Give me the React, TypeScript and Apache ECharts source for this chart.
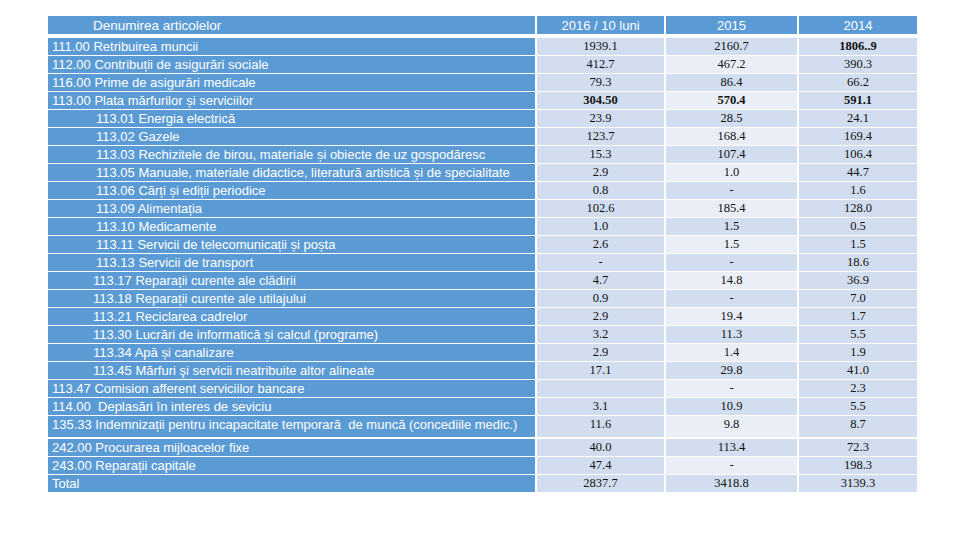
import React, { useEffect, useRef } from "react";
import * as echarts from "echarts";

// ---------- data ----------
const headers = ["Denumirea articolelor", "2016 / 10 luni", "2015", "2014"];

const articles = [
  "111.00 Retribuirea muncii",
  "112.00 Contribuții de asigurări sociale",
  "116.00 Prime de asigurări medicale",
  "113.00 Plata mărfurilor și serviciilor",
  "113.01 Energia electrică",
  "113,02 Gazele",
  "113.03 Rechizitele de birou, materiale și obiecte de uz gospodăresc",
  "113.05 Manuale, materiale didactice, literatură artistică și de specialitate",
  "113.06 Cărți și ediții periodice",
  "113.09 Alimentația",
  "113.10 Medicamente",
  "113.11 Servicii de telecomunicații și poșta",
  "113.13 Servicii de transport",
  "113.17 Reparații curente ale clădirii",
  "113.18 Reparații curente ale utilajului",
  "113.21 Reciclarea cadrelor",
  "113.30 Lucrări de informatică și calcul (programe)",
  "113.34 Apă și canalizare",
  "113.45 Mărfuri şi servicii neatribuite altor alineate",
  "113.47 Comision afferent serviciilor bancare",
  "114.00  Deplasări în interes de seviciu",
  "135.33 Indemnizații pentru incapacitate temporară  de muncă (concediile medic.)",
  "242.00 Procurarea mijloacelor fixe",
  "243.00 Reparații capitale",
  "Total",
];

const values2016 = [
  "1939.1", "412.7", "79.3", "304.50", "23.9", "123.7", "15.3", "2.9", "0.8", "102.6",
  "1.0", "2.6", "-", "4.7", "0.9", "2.9", "3.2", "2.9", "17.1", "", "3.1", "11.6",
  "40.0", "47.4", "2837.7",
];
const values2015 = [
  "2160.7", "467.2", "86.4", "570.4", "28.5", "168.4", "107.4", "1.0", "-", "185.4",
  "1.5", "1.5", "-", "14.8", "-", "19.4", "11.3", "1.4", "29.8", "-", "10.9", "9.8",
  "113.4", "-", "3418.8",
];
const values2014 = [
  "1806..9", "390.3", "66.2", "591.1", "24.1", "169.4", "106.4", "44.7", "1.6", "128.0",
  "0.5", "1.5", "18.6", "36.9", "7.0", "1.7", "5.5", "1.9", "41.0", "2.3", "5.5", "8.7",
  "72.3", "198.3", "3139.3",
];
const valueColumns = [values2016, values2015, values2014];

// cells shown in bold: [column, row]
const boldCells: [number, number][] = [
  [1, 3],
  [2, 3],
  [3, 3],
  [3, 0],
];

// ---------- layout (pixels) ----------
const COL_EDGES: [number, number][] = [
  [48, 535],
  [537, 664],
  [666, 797],
  [799, 917],
];
// indentation level of each article label (0 = top level)
const indentLevel = [0, 0, 0, 0, 2, 2, 2, 2, 2, 2, 2, 2, 2, 1, 1, 1, 1, 1, 1, 0, 0, 0, 0, 0, 0];
const INDENT_X = [52, 93, 96];

const BLUE = "#5B9BD5";
const BAND_DARK = "#D2DEEF";
const BAND_LIGHT = "#EAEFF7";
const LABEL_FONT = "'Liberation Sans', Arial, sans-serif";
const NUM_FONT = "'Liberation Serif', 'Times New Roman', serif";

function rowBox(r: number): [number, number] {
  if (r < 0) return [16, 18];
  if (r < 21) return [38 + 18 * r, 17];
  if (r === 21) return [416, 21];
  return [439 + 18 * (r - 22), 17];
}

const cells: number[][] = [];
for (let r = -1; r < articles.length; r++) {
  for (let c = 0; c < headers.length; c++) cells.push([c, r]);
}

export default function App() {
  const ref = useRef<HTMLDivElement>(null);
  useEffect(() => {
    if (!ref.current) return;
    const chart = echarts.init(ref.current, undefined, { renderer: "svg" });
    chart.setOption({
      animation: false,
      backgroundColor: "#ffffff",
      grid: { left: 0, right: 0, top: 0, bottom: 0 },
      xAxis: { type: "value", min: 0, max: 960, show: false },
      yAxis: { type: "value", min: 0, max: 540, inverse: true, show: false },
      series: [
        {
          type: "custom",
          coordinateSystem: "cartesian2d",
          data: cells,
          silent: true,
          renderItem: (params: any, api: any) => {
            const c = api.value(0) as number;
            const r = api.value(1) as number;
            const [x0, x1] = COL_EDGES[c];
            const [top, h] = rowBox(r);
            const p0 = api.coord([x0, top]);
            const p1 = api.coord([x1, top + h]);
            let fill = BLUE;
            if (r >= 0 && c > 0) {
              fill = c === 2 ? (r % 2 === 0 ? BAND_DARK : BAND_LIGHT) : BAND_DARK;
            }
            let text = "";
            let tx = (p0[0] + p1[0]) / 2;
            let align = "center";
            let font = LABEL_FONT;
            let color = "#ffffff";
            let size = 13;
            let weight: any = "normal";
            let ty = r < 0 ? (p0[1] + p1[1]) / 2 : api.coord([0, top + 8])[1];
            if (r < 0) {
              text = headers[c];
              if (c === 0) {
                tx = api.coord([93, 0])[0];
                align = "left";
                size = 13.5;
              }
            } else if (c === 0) {
              text = articles[r];
              tx = api.coord([INDENT_X[indentLevel[r]], 0])[0];
              align = "left";
            } else {
              text = valueColumns[c - 1][r];
              font = NUM_FONT;
              color = "#111111";
              size = 12.5;
              if (boldCells.some(([bc, br]) => bc === c && br === r)) weight = "bold";
            }
            return {
              type: "group",
              children: [
                {
                  type: "rect",
                  shape: { x: p0[0], y: p0[1], width: p1[0] - p0[0], height: p1[1] - p0[1] },
                  style: { fill },
                },
                {
                  type: "text",
                  x: tx,
                  y: ty,
                  style: {
                    text,
                    fill: color,
                    fontFamily: font,
                    fontSize: size,
                    fontWeight: weight,
                    align,
                    verticalAlign: "middle",
                  },
                },
              ],
            };
          },
        },
      ],
    });
    return () => chart.dispose();
  }, []);
  return (
    <div
      ref={ref}
      style={{ position: "fixed", left: 0, top: 0, width: 960, height: 540 }}
    />
  );
}
